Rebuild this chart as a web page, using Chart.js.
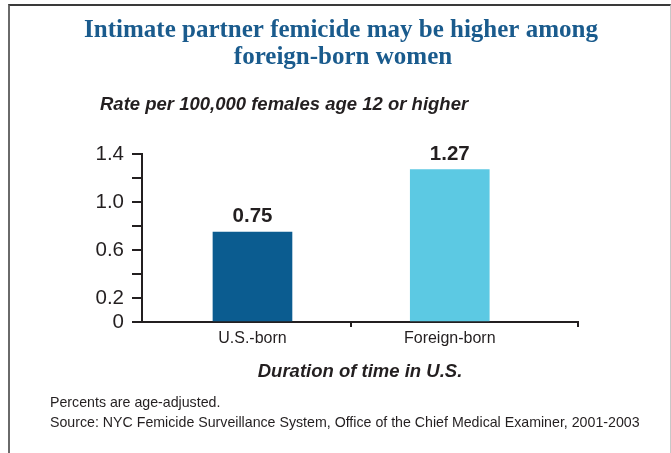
<!DOCTYPE html>
<html>
<head>
<meta charset="utf-8">
<script src="https://cdn.jsdelivr.net/npm/chart.js@4.4.1/dist/chart.umd.min.js"></script>
<style>
  html, body { margin: 0; padding: 0; background: #fff; }
  #wrap { position: relative; width: 671px; height: 453px; overflow: hidden; }
  #wrap canvas { position: absolute; left: 0; top: 0; }
  #frame {
    position: absolute; left: 8px; top: 4px; right: 0; bottom: -4px;
    border-left: 2px solid #6a6a6a; border-top: 2px solid #3a3a3a; border-right: 1px solid #c8c8c8;
    pointer-events: none;
  }
</style>
</head>
<body>
<div id="wrap">
  <canvas id="chart" width="671" height="453"></canvas>
  <div id="frame"></div>
</div>
<script>
// ─── Data ──────────────────────────────────────────────────────────────────────
const categories = ["U.S.-born", "Foreign-born"];
const rates = [0.75, 1.27];
const yTickLabels = ["0", "0.2", "0.6", "1.0", "1.4"];
const barColors = ["#0b5c90", "#5cc9e3"];

const titleLines = ["Intimate partner femicide may be higher among", "foreign-born women"];
const yAxisTitle = "Rate per 100,000 females age 12 or higher";
const xAxisTitle = "Duration of time in U.S.";
const footnotes = [
  "Percents are age-adjusted.",
  "Source: NYC Femicide Surveillance System, Office of the Chief Medical Examiner, 2001-2003"
];

const ink = "#231f20";
const sans = "'Liberation Sans', Arial, sans-serif";

// ─── Value labels above the bars ───────────────────────────────────────────────
const valueLabels = {
  id: "valueLabels",
  afterDatasetsDraw(chart) {
    const ctx = chart.ctx;
    const meta = chart.getDatasetMeta(0);
    ctx.save();
    ctx.font = "bold 20.5px " + sans;
    ctx.fillStyle = ink;
    ctx.textAlign = "center";
    ctx.textBaseline = "alphabetic";
    meta.data.forEach((bar, i) => {
      ctx.fillText(rates[i].toFixed(2), bar.x, bar.y - 10);
    });
    ctx.restore();
  }
};

// ─── Title, axis caption and footnotes ─────────────────────────────────────────
const texts = {
  id: "texts",
  afterDraw(chart) {
    const ctx = chart.ctx;
    ctx.save();
    ctx.fillStyle = "#1a5b8d";
    ctx.textAlign = "center";
    ctx.textBaseline = "alphabetic";
    ctx.font = "bold 25px 'Liberation Serif', 'Times New Roman', serif";
    ctx.fillText(titleLines[0], 341, 37);
    ctx.fillText(titleLines[1], 343, 64);

    ctx.fillStyle = ink;
    ctx.textAlign = "left";
    ctx.font = "italic bold 18.5px " + sans;
    ctx.fillText(yAxisTitle, 100, 110);

    ctx.font = "14.2px " + sans;
    ctx.fillText(footnotes[0], 50, 407);
    ctx.fillText(footnotes[1], 50, 427);
    ctx.restore();
  }
};

const ctx = document.getElementById("chart").getContext("2d");

new Chart(ctx, {
  type: "bar",
  data: {
    datasets: [{
      data: rates.map((v, i) => ({ x: i + 1, y: v })),
      backgroundColor: barColors,
      barThickness: 79
    }]
  },
  options: {
    responsive: false,
    animation: false,
    layout: { padding: { left: 82, top: 154, right: 93, bottom: 68 } },
    plugins: {
      legend: { display: false },
      tooltip: { enabled: false }
    },
    scales: {
      x: {
        type: "linear",
        offset: false,
        min: 0.44,
        max: 2.65,
        afterBuildTicks: scale => {
          scale.ticks = [1, 1.5, 2, 2.65].map(v => ({ value: v }));
        },
        afterFit: scale => { scale.height = 63; },
        border: { color: ink, width: 2 },
        grid: {
          offset: false,
          drawOnChartArea: false,
          tickLength: 5,
          lineWidth: 2,
          color: c => (c.tick && Number.isInteger(c.tick.value)) ? "rgba(0,0,0,0)" : ink
        },
        ticks: {
          autoSkip: false,
          maxRotation: 0,
          padding: 2,
          color: ink,
          font: { family: sans, size: 16 },
          callback: v => Number.isInteger(v) ? categories[v - 1] : ""
        },
        title: {
          display: true,
          text: xAxisTitle,
          color: ink,
          font: { family: sans, size: 18.5, style: "italic", weight: "bold" },
          padding: { top: 0, bottom: 2 }
        }
      },
      y: {
        min: 0,
        max: 1.4,
        afterFit: scale => { scale.width = 60; },
        border: { color: ink, width: 2 },
        grid: {
          drawOnChartArea: false,
          tickLength: 10,
          lineWidth: 2,
          color: ink
        },
        ticks: {
          stepSize: 0.2,
          autoSkip: false,
          padding: 8,
          color: ink,
          font: { family: sans, size: 20.5 },
          callback: v => {
            const s = v === 0 ? "0" : v.toFixed(1);
            return yTickLabels.includes(s) ? s : "";
          }
        }
      }
    }
  },
  plugins: [valueLabels, texts]
});
</script>
</body>
</html>
